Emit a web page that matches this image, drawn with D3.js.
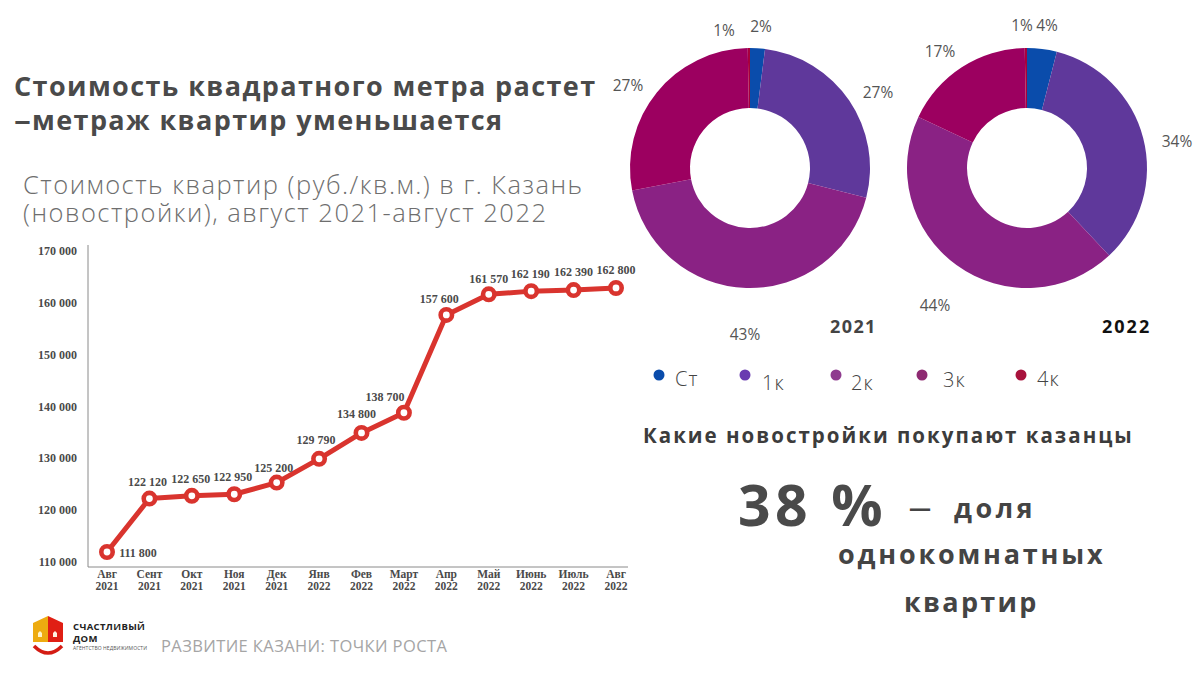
<!DOCTYPE html>
<html><head><meta charset="utf-8">
<script src="https://cdn.jsdelivr.net/npm/d3@7"></script>
<style>html,body{margin:0;padding:0;background:#fff}svg{display:block}text{font-family:"Open Sans",sans-serif}
.ser{font-family:"Liberation Serif",serif;font-weight:700}</style></head><body>
<svg id="c" width="1200" height="675"></svg>
<script>
const months=[["Авг","2021"],["Сент","2021"],["Окт","2021"],["Ноя","2021"],["Дек","2021"],["Янв","2022"],["Фев","2022"],["Март","2022"],["Апр","2022"],["Май","2022"],["Июнь","2022"],["Июль","2022"],["Авг","2022"]];
const prices=[111800,122120,122650,122950,125200,129790,134800,138700,157600,161570,162190,162390,162800];
const priceLabels=["111 800","122 120","122 650","122 950","125 200","129 790","134 800","138 700","157 600","161 570","162 190","162 390","162 800"];
const yTicks=[110000,120000,130000,140000,150000,160000,170000];
const rooms=["Ст","1к","2к","3к","4к"];
// slice widths as drawn in the picture: the 4к slice is a hairline although it is labelled 1%
const share2021=[2,27,43,27.7,0.3];
const share2022=[4,34,44,17.7,0.3];
const sliceColors=["#0a4cab","#5f389b","#8a2284","#9c0060","#a8003c"];
const legendColors=["#0a4cab","#6a3bb0","#8f3c8f","#8e2a72","#a8123c"];

const svg=d3.select("#c");
const T=(x,y,s,size,fill,weight,ls,anchor)=>svg.append("text").attr("x",x).attr("y",y).text(s)
  .attr("font-size",size).attr("fill",fill).attr("font-weight",weight||400)
  .attr("letter-spacing",ls||0).attr("text-anchor",anchor||"start");

T(14,96,"Стоимость квадратного метра растет",27,"#4a4a4a",700,1.4);
T(14,130,"–",27,"#4a4a4a",700).attr("transform","translate(14,130) scale(1.25,1) translate(-14,-130)");
T(32,130,"метраж квартир уменьшается",27,"#4a4a4a",700,1.4);
T(23,194,"Стоимость квартир (руб./кв.м.) в г. Казань",25.5,"#6e6e6e",300,1.5);
T(23,222,"(новостройки), август 2021-август 2022",25.5,"#6e6e6e",300,1.5);

// line chart
const x=d3.scalePoint().domain(d3.range(months.length)).range([107,616]);
const y=d3.scaleLinear().domain([110000,170000]).range([561.3,250.7]);
const g=svg.append("g");
g.append("line").attr("x1",88).attr("x2",88).attr("y1",245).attr("y2",567).attr("stroke","#8a8a8a").attr("stroke-width",1);
g.append("line").attr("x1",88).attr("x2",628).attr("y1",567).attr("y2",567).attr("stroke","#8a8a8a").attr("stroke-width",1);
yTicks.forEach(v=>g.append("text").attr("class","ser").attr("x",77).attr("y",y(v)+4.5).attr("text-anchor","end")
  .attr("font-size",12).attr("fill","#4a4a4a").text(d3.format(",")(v).replace(",", " ")));
months.forEach((m,i)=>{
  [0,1].forEach(k=>g.append("text").attr("class","ser").attr("x",x(i)).attr("y",k?590:578).attr("text-anchor","middle")
   .attr("font-size",11.5).attr("fill","#4a4a4a").text(m[k]));
});
const line=d3.line().x((d,i)=>x(i)).y(d=>y(d));
g.append("path").attr("d",line(prices)).attr("fill","none").attr("stroke","#d9342e").attr("stroke-width",5).attr("stroke-linejoin","round");
g.selectAll("circle").data(prices).join("circle").attr("cx",(d,i)=>x(i)).attr("cy",d=>y(d)).attr("r",5.7)
  .attr("fill","#fff").attr("stroke","#d9342e").attr("stroke-width",4.6);
const lblDx=[31,-2,-1,-1.5,-3,-3,-5,-19,-7,0,-1,0,0], lblDy=[5,-13,-13,-13.5,-11,-15,-15,-12,-12,-11,-13,-14,-14];
prices.forEach((d,i)=>g.append("text").attr("class","ser").attr("x",x(i)+lblDx[i]).attr("y",y(d)+lblDy[i]).attr("text-anchor","middle")
  .attr("font-size",12).attr("fill","#4a4a4a").text(priceLabels[i]));

// donuts
function donut(cx,cy,vals,cols){
  const pie=d3.pie().sort(null)(vals);
  const arc=d3.arc().innerRadius(60).outerRadius(120);
  svg.append("g").attr("transform",`translate(${cx},${cy})`).selectAll("path").data(pie).join("path")
    .attr("d",arc).attr("fill",(d,i)=>cols[i]);
}
donut(750,168,share2021,sliceColors);
donut(1027,168,share2022,sliceColors);
const pct=[[761,"2%",32],[724,"1%",36],[628,"27%",91],[878,"27%",98],[745,"43%",340]];
pct.forEach(p=>T(p[0],p[2],p[1],15.5,"#555",400,0,"middle"));
const pct2=[[1022,"1%",31],[1047,"4%",31],[940,"17%",57],[1177,"34%",147],[935,"44%",311]];
pct2.forEach(p=>T(p[0],p[2],p[1],15.5,"#555",400,0,"middle"));
T(830,333,"2021",18,"#444",700,1.4);
T(1102,333,"2022",18,"#111",700,2);

// legend
const lx=[659,745,836,922,1021], ly=[375,375,375,375,375], tx=[675,762,851,943,1037], ty=[386,390,390,387,386];
rooms.forEach((r,i)=>{
  svg.append("circle").attr("cx",lx[i]).attr("cy",ly[i]).attr("r",5.5).attr("fill",legendColors[i]);
  T(tx[i],ty[i],r,20,"#444",300,1);
});

T(643,443,"Какие новостройки покупают казанцы",20.5,"#3c3c3c",700,2);
T(738,526,"38 %",57,"#4a4a4a",700,4.4);
T(909,516,"—",22,"#444",700);
T(954,518,"доля",27,"#444",700,3.5);
T(838,564,"однокомнатных",27,"#444",700,2.8);
T(904,612,"квартир",27,"#444",700,2.3);

// logo
const lg=svg.append("g");
lg.append("path").attr("d","M48 616 L33 623 V642 H48 Z").attr("fill","#edab10");
lg.append("path").attr("d","M48 616 L63 623 V642 H48 Z").attr("fill","#e01f14");
lg.append("path").attr("d","M38 637 V633 L40 631 L42 633 V637 Z").attr("fill","#fff3c8");
lg.append("path").attr("d","M53 637 V633 L55 631 L57 633 V637 Z").attr("fill","#fff3e0");
lg.append("path").attr("d","M34 646 Q48 660 62 646").attr("fill","none").attr("stroke","#d41c14").attr("stroke-width",3.5);
T(73,629.5,"СЧАСТЛИВЫЙ",9.5,"#222",700,0.35);
T(73,641.5,"ДОМ",9.5,"#222",700,0.35);
T(73,650,"АГЕНТСТВО НЕДВИЖИМОСТИ",5,"#555",400,0.08);
T(161,652,"РАЗВИТИЕ КАЗАНИ: ТОЧКИ РОСТА",16.5,"#a5a5a5",500,0.4);
</script></body></html>
